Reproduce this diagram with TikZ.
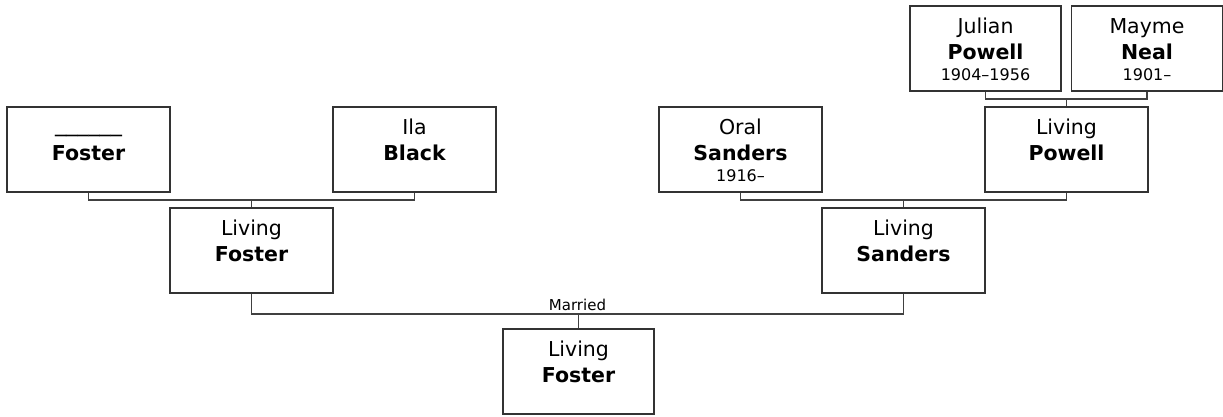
\documentclass[tikz,border=0pt]{standalone}
\usepackage{fontspec}
\setmainfont{DejaVu Sans}
\begin{document}
\begin{tikzpicture}[x=1pt,y=1pt,
  person/.style={draw=black!80, line width=1.6pt, minimum width=163pt, minimum height=85pt, inner sep=0pt},
  narrow/.style={person, minimum width=151pt},
  given/.style={font=\fontsize{20.5}{24}\selectfont, anchor=base, inner sep=0pt},
  surname/.style={font=\fontsize{20.5}{24}\selectfont\bfseries, anchor=base, inner sep=0pt},
  dates/.style={font=\fontsize{16}{19}\selectfont, anchor=base, inner sep=0pt},
  blank/.style={font=\fontsize{22.3}{24}\selectfont, anchor=base, inner sep=0pt},
  note/.style={font=\fontsize{15}{18}\selectfont, anchor=base, inner sep=0pt},
  link/.style={draw=black!75, line width=1.6pt}]
\useasboundingbox (0,0) rectangle (1223,416);
% boxes
\node[person] (A) at (88.5,266.5) {};
\node[person] (B) at (414.5,266.5) {};
\node[person] (C) at (251.5,165.5) {};
\node[person] (O) at (740.5,266.5) {};
\node[person] (P) at (1066.5,266.5) {};
\node[narrow] (J) at (985.5,367.5) {};
\node[narrow] (M) at (1147,367.5) {};
\node[person] (S) at (903.5,165.5) {};
\node[narrow] (D) at (578.5,44.5) {};
% texts
\node[blank] (A1) at ([yshift=-25pt]A.north) {\_\_\_\_\_\_};
\node[surname] (A2) at ([yshift=-54pt]A.north) {Foster};
\node[given] (B1) at ([yshift=-28.5pt]B.north) {Ila};
\node[surname] (B2) at ([yshift=-54pt]B.north) {Black};
\node[given] (C1) at ([yshift=-28.5pt]C.north) {Living};
\node[surname] (C2) at ([yshift=-54pt]C.north) {Foster};
\node[given] (O1) at ([yshift=-28.5pt]O.north) {Oral};
\node[surname] (O2) at ([yshift=-54pt]O.north) {Sanders};
\node[dates] (O3) at ([yshift=-75pt]O.north) {1916–};
\node[given] (P1) at ([yshift=-28.5pt]P.north) {Living};
\node[surname] (P2) at ([yshift=-54pt]P.north) {Powell};
\node[given] (J1) at ([yshift=-28.5pt]J.north) {Julian};
\node[surname] (J2) at ([yshift=-54pt]J.north) {Powell};
\node[dates] (J3) at ([yshift=-75pt]J.north) {1904–1956};
\node[given] (M1) at ([yshift=-28.5pt]M.north) {Mayme};
\node[surname] (M2) at ([yshift=-54pt]M.north) {Neal};
\node[dates] (M3) at ([yshift=-75pt]M.north) {1901–};
\node[given] (S1) at ([yshift=-28.5pt]S.north) {Living};
\node[surname] (S2) at ([yshift=-54pt]S.north) {Sanders};
\node[given] (D1) at ([yshift=-28.5pt]D.north) {Living};
\node[surname] (D2) at ([yshift=-54pt]D.north) {Foster};
% connectors
\draw[link] (A.south) |- (251.5,216) -| (B.south);
\draw[link] (C.north) -- (C.north |- 0,216);
\draw[link] (J.south) |- (1066.5,317) -| (M.south);
\draw[link] (P.north) -- (P.north |- 0,317);
\draw[link] (O.south) |- (903.5,216) -| (P.south);
\draw[link] (S.north) -- (S.north |- 0,216);
\draw[link] (C.south) |- (577.5,102) -| (S.south);
\draw[link] (D.north) -- (D.north |- 0,102);
\node[note] (mar) at (577.5,106) {Married};
\end{tikzpicture}
\end{document}
